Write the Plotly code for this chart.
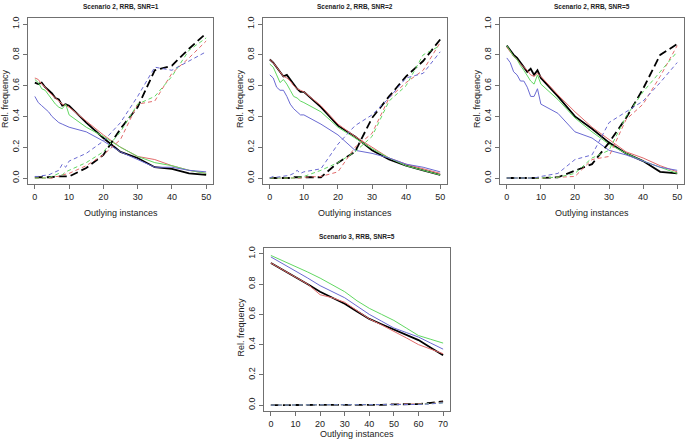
import plotly.graph_objects as go

# ---------------- data ----------------
x_s2 = [0, 1, 2, 3, 4, 5, 6, 7, 8, 9, 10, 15, 20, 25, 30, 35, 40, 45, 50]
x_s3 = [0, 5, 10, 15, 20, 25, 30, 35, 40, 45, 50, 55, 60, 65, 70]

# Panel 1: Scenario 2, RRB, SNR=1
p1_black = [0.62, 0.61, 0.62, 0.59, 0.57, 0.55, 0.52, 0.51, 0.47, 0.48, 0.47, 0.36, 0.26, 0.17, 0.13, 0.07, 0.06, 0.03, 0.02]
p1_red = [0.65, 0.64, 0.61, 0.59, 0.56, 0.54, 0.52, 0.50, 0.48, 0.47, 0.46, 0.37, 0.28, 0.20, 0.14, 0.12, 0.08, 0.05, 0.03]
p1_green = [0.64, 0.62, 0.58, 0.57, 0.54, 0.51, 0.48, 0.46, 0.45, 0.48, 0.41, 0.33, 0.27, 0.20, 0.14, 0.10, 0.08, 0.05, 0.03]
p1_blue = [0.53, 0.49, 0.47, 0.45, 0.43, 0.40, 0.38, 0.36, 0.35, 0.34, 0.33, 0.30, 0.24, 0.17, 0.12, 0.07, 0.07, 0.05, 0.04]
p1_black_d = [0.005, 0.005, 0.005, 0.005, 0.005, 0.005, 0.01, 0.01, 0.01, 0.01, 0.01, 0.065, 0.15, 0.32, 0.46, 0.70, 0.73, 0.84, 0.94]
p1_red_d = [0.0, 0.0, 0.0, 0.0, 0.0, 0.0, 0.01, 0.01, 0.02, 0.025, 0.03, 0.08, 0.15, 0.25, 0.48, 0.50, 0.68, 0.78, 0.89]
p1_green_d = [0.0, 0.0, 0.0, 0.0, 0.0, 0.01, 0.02, 0.03, 0.02, 0.04, 0.05, 0.10, 0.17, 0.30, 0.48, 0.53, 0.66, 0.83, 0.91]
p1_blue_d = [0.01, 0.01, 0.015, 0.02, 0.02, 0.03, 0.04, 0.05, 0.09, 0.07, 0.11, 0.16, 0.24, 0.36, 0.53, 0.72, 0.70, 0.76, 0.82]

# Panel 2: Scenario 2, RRB, SNR=2
p2_black = [0.77, 0.75, 0.72, 0.69, 0.66, 0.67, 0.64, 0.61, 0.58, 0.56, 0.56, 0.46, 0.34, 0.27, 0.18, 0.12, 0.08, 0.05, 0.02]
p2_red = [0.77, 0.75, 0.72, 0.69, 0.66, 0.65, 0.63, 0.60, 0.58, 0.57, 0.56, 0.47, 0.35, 0.27, 0.20, 0.13, 0.09, 0.06, 0.03]
p2_green = [0.74, 0.72, 0.67, 0.62, 0.64, 0.61, 0.57, 0.53, 0.52, 0.50, 0.49, 0.43, 0.33, 0.26, 0.19, 0.13, 0.08, 0.05, 0.02]
p2_blue = [0.67, 0.65, 0.59, 0.57, 0.57, 0.53, 0.48, 0.45, 0.43, 0.41, 0.41, 0.35, 0.28, 0.18, 0.16, 0.13, 0.09, 0.07, 0.04]
p2_black_d = [0.0, 0.0, 0.0, 0.0, 0.0, 0.0, 0.0, 0.005, 0.005, 0.005, 0.005, 0.005, 0.10, 0.17, 0.39, 0.53, 0.66, 0.76, 0.90]
p2_red_d = [0.0, 0.0, 0.0, 0.0, 0.0, 0.0, 0.0, 0.0, 0.0, 0.0, 0.005, 0.01, 0.04, 0.20, 0.29, 0.52, 0.62, 0.70, 0.88]
p2_green_d = [0.0, 0.0, 0.0, 0.0, 0.0, 0.0, 0.0, 0.0, 0.005, 0.005, 0.01, 0.05, 0.10, 0.17, 0.27, 0.50, 0.60, 0.80, 0.86]
p2_blue_d = [0.0, 0.01, 0.005, 0.01, 0.01, 0.015, 0.02, 0.03, 0.05, 0.03, 0.04, 0.06, 0.22, 0.34, 0.41, 0.52, 0.65, 0.68, 0.82]

# Panel 3: Scenario 2, RRB, SNR=5
p3_black = [0.86, 0.83, 0.80, 0.78, 0.75, 0.72, 0.69, 0.71, 0.67, 0.70, 0.65, 0.53, 0.40, 0.32, 0.23, 0.16, 0.11, 0.04, 0.03]
p3_red = [0.85, 0.82, 0.79, 0.77, 0.74, 0.72, 0.70, 0.67, 0.66, 0.68, 0.66, 0.54, 0.43, 0.33, 0.25, 0.17, 0.13, 0.08, 0.04]
p3_green = [0.86, 0.82, 0.79, 0.77, 0.73, 0.70, 0.66, 0.63, 0.61, 0.67, 0.61, 0.51, 0.39, 0.30, 0.22, 0.16, 0.11, 0.07, 0.03]
p3_blue = [0.78, 0.75, 0.69, 0.67, 0.63, 0.63, 0.59, 0.53, 0.53, 0.58, 0.48, 0.42, 0.30, 0.26, 0.18, 0.15, 0.11, 0.07, 0.05]
p3_black_d = [0.0, 0.0, 0.0, 0.0, 0.0, 0.0, 0.0, 0.0, 0.0, 0.0, 0.0, 0.005, 0.05, 0.09, 0.23, 0.39, 0.58, 0.80, 0.87]
p3_red_d = [0.0, 0.0, 0.0, 0.0, 0.0, 0.0, 0.0, 0.0, 0.0, 0.0, 0.0, 0.005, 0.01, 0.12, 0.14, 0.38, 0.48, 0.66, 0.86]
p3_green_d = [0.0, 0.0, 0.0, 0.0, 0.0, 0.0, 0.0, 0.0, 0.0, 0.0, 0.0, 0.005, 0.03, 0.13, 0.18, 0.40, 0.56, 0.69, 0.82]
p3_blue_d = [0.0, 0.0, 0.0, 0.0, 0.0, 0.0, 0.0, 0.0, 0.0, 0.005, 0.01, 0.03, 0.12, 0.15, 0.36, 0.43, 0.50, 0.62, 0.75]

# Panel 4: Scenario 3, RRB, SNR=5
p4_black = [0.94, 0.895, 0.85, 0.80, 0.75, 0.71, 0.67, 0.62, 0.57, 0.535, 0.50, 0.465, 0.43, 0.38, 0.33]
p4_red = [0.94, 0.895, 0.85, 0.80, 0.73, 0.71, 0.68, 0.625, 0.57, 0.53, 0.49, 0.445, 0.40, 0.37, 0.34]
p4_green = [0.99, 0.955, 0.92, 0.88, 0.84, 0.795, 0.75, 0.69, 0.64, 0.60, 0.56, 0.51, 0.46, 0.435, 0.41]
p4_blue = [0.98, 0.935, 0.89, 0.84, 0.79, 0.75, 0.71, 0.655, 0.60, 0.555, 0.51, 0.48, 0.45, 0.41, 0.37]
p4_black_d = [0.0, 0.0, 0.0, 0.0, 0.0, 0.0, 0.0, 0.0, 0.0, 0.002, 0.005, 0.005, 0.006, 0.015, 0.025]
p4_red_d = [0.0, 0.0, 0.0, 0.0, 0.0, 0.0, 0.0, 0.0, 0.0, 0.003, 0.005, 0.005, 0.005, 0.01, 0.02]
p4_green_d = [0.0, 0.0, 0.0, 0.0, 0.0, 0.0, 0.0, 0.0, 0.0, 0.0, 0.002, 0.004, 0.005, 0.01, 0.015]
p4_blue_d = [0.0, 0.0, 0.0, 0.0, 0.0, 0.0, 0.0, 0.0, 0.0, 0.0, 0.0, 0.002, 0.004, 0.008, 0.015]

titles = ["Scenario 2, RRB, SNR=1", "Scenario 2, RRB, SNR=2",
          "Scenario 2, RRB, SNR=5", "Scenario 3, RRB, SNR=5"]
x_title = "Outlying instances"
y_title = "Rel. frequency"
x_ticks_s2 = [0, 10, 20, 30, 40, 50]
x_ticks_s3 = [0, 10, 20, 30, 40, 50, 60, 70]
y_ticks = [0.0, 0.2, 0.4, 0.6, 0.8, 1.0]

# ---------------- styling / layout ----------------
W, H = 685, 440
BLACK = "#000000"
RED = "#e26a6a"
GREEN = "#62d862"
BLUE = "#6a6ad2"
FONT = "Liberation Sans, Arial, sans-serif"

panels = [
    dict(x=x_s2, xt=x_ticks_s2, xr=[-2, 52], box=(28, 16, 213, 183), xt_off=29,
         solid=[p1_black, p1_red, p1_green, p1_blue],
         dashed=[p1_black_d, p1_red_d, p1_green_d, p1_blue_d]),
    dict(x=x_s2, xt=x_ticks_s2, xr=[-2, 52], box=(263, 16, 447, 183), xt_off=29,
         solid=[p2_black, p2_red, p2_green, p2_blue],
         dashed=[p2_black_d, p2_red_d, p2_green_d, p2_blue_d]),
    dict(x=x_s2, xt=x_ticks_s2, xr=[-2, 52], box=(500, 16, 684, 183), xt_off=29,
         solid=[p3_black, p3_red, p3_green, p3_blue],
         dashed=[p3_black_d, p3_red_d, p3_green_d, p3_blue_d]),
    dict(x=x_s3, xt=x_ticks_s3, xr=[-2.8, 72.8], box=(264, 247, 450, 411), xt_off=23,
         solid=[p4_black, p4_red, p4_green, p4_blue],
         dashed=[p4_black_d, p4_red_d, p4_green_d, p4_blue_d]),
]

colors = [BLACK, RED, GREEN, BLUE]
fig = go.Figure()
annotations = []
layout_axes = {}

for i, p in enumerate(panels):
    n = "" if i == 0 else str(i + 1)
    xa, ya = "x" + n, "y" + n
    x0, y0, x1, y1 = p["box"]
    for k, (ys, col) in enumerate(zip(p["solid"], colors)):
        fig.add_trace(go.Scatter(
            x=p["x"], y=ys, mode="lines", xaxis=xa, yaxis=ya,
            line=dict(color=col, width=1.8 if k == 0 else 1.0),
            showlegend=False, hoverinfo="skip"))
    for k, (ys, col) in enumerate(zip(p["dashed"], colors)):
        fig.add_trace(go.Scatter(
            x=p["x"], y=ys, mode="lines", xaxis=xa, yaxis=ya,
            line=dict(color=col, width=1.8 if k == 0 else 1.0,
                      dash="8px,4px" if k == 0 else "4px,3px"),
            showlegend=False, hoverinfo="skip"))

    axis_common = dict(showline=True, mirror=True, linecolor="#707070", linewidth=1,
                       ticks="outside", ticklen=4, tickcolor="#707070", tickwidth=1,
                       showgrid=False, zeroline=False,
                       tickfont=dict(family=FONT, size=9, color="#222222"))
    layout_axes["xaxis" + n] = dict(
        axis_common, domain=[x0 / W, x1 / W], range=p["xr"],
        tickvals=p["xt"], anchor=ya)
    layout_axes["yaxis" + n] = dict(
        axis_common, domain=[1 - y1 / H, 1 - y0 / H], range=[-0.04, 1.04],
        tickvals=y_ticks, tickformat=".1f", tickangle=-90, anchor=xa)

    cx = (x0 + x1) / 2
    cy = (y0 + y1) / 2
    annotations.append(dict(
        text="<b>" + titles[i] + "</b>", x=cx / W, y=1 - (y0 - 11) / H,
        xref="paper", yref="paper", showarrow=False, xanchor="center", yanchor="middle",
        font=dict(family=FONT, size=6.5, color="#222222")))
    annotations.append(dict(
        text=x_title, x=cx / W, y=1 - (y1 + p["xt_off"]) / H,
        xref="paper", yref="paper", showarrow=False, xanchor="center", yanchor="middle",
        font=dict(family=FONT, size=9, color="#222222")))
    annotations.append(dict(
        text=y_title, x=(x0 - 23) / W, y=1 - (cy - 2) / H, textangle=-90,
        xref="paper", yref="paper", showarrow=False, xanchor="center", yanchor="middle",
        font=dict(family=FONT, size=9, color="#222222")))

fig.update_layout(
    width=W, height=H, margin=dict(l=0, r=0, t=0, b=0),
    paper_bgcolor="white", plot_bgcolor="white",
    annotations=annotations, **layout_axes)

fig.write_html("out.html", config={"displayModeBar": False},
               post_script="document.body.style.margin='0px';")
